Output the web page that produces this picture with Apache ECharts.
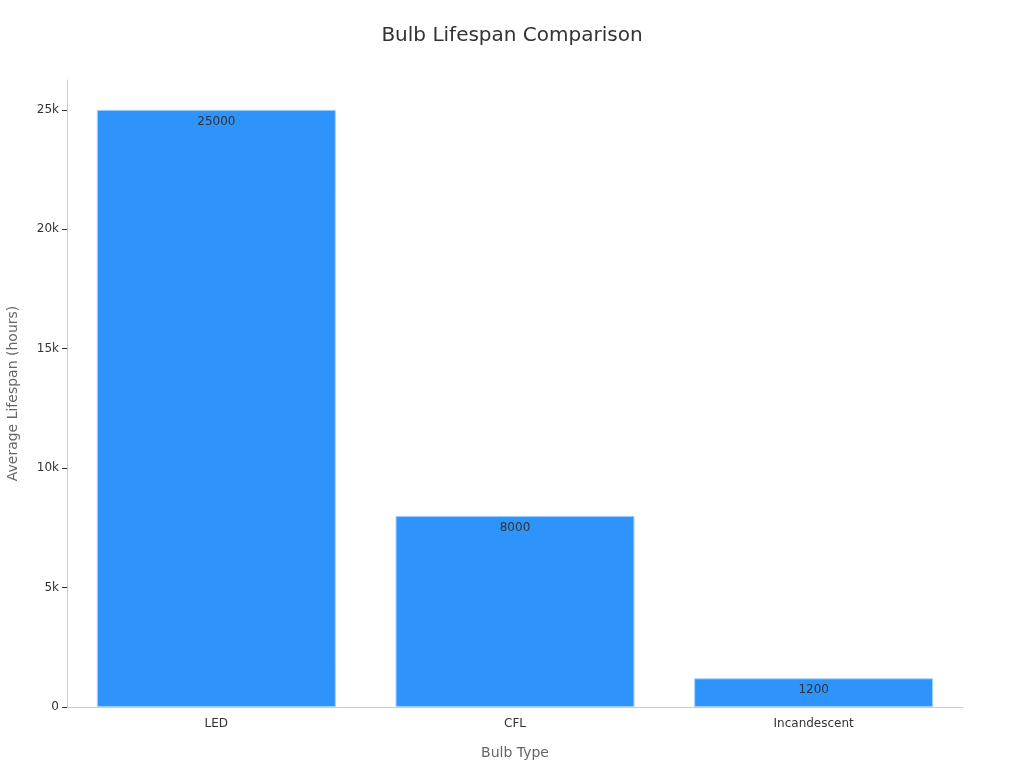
<!DOCTYPE html>
<html>
<head>
<meta charset="utf-8">
<script src="https://cdn.jsdelivr.net/npm/echarts@6/dist/echarts.min.js"></script>
<style>
  html, body { margin: 0; padding: 0; background: #fff; }
  #chart { width: 1024px; height: 768px; }
</style>
</head>
<body>
<div id="chart"></div>
<script>
// data
var bulbTypes = ['LED', 'CFL', 'Incandescent'];
var lifespanHours = [25000, 8000, 1200];

var chart = echarts.init(document.getElementById('chart'));

var option = {
  backgroundColor: '#fff',
  textStyle: { fontFamily: 'DejaVu Sans' },
  title: {
    text: 'Bulb Lifespan Comparison',
    left: 'center',
    top: 21,
    textStyle: { fontSize: 20, fontWeight: 'normal', color: '#333', fontFamily: 'DejaVu Sans' }
  },
  grid: { left: 67, right: 61, top: 80, bottom: 61, outerBoundsMode: 'none', containLabel: false },
  xAxis: {
    type: 'category',
    data: bulbTypes,
    name: 'Bulb Type',
    nameLocation: 'middle',
    nameGap: 39,
    nameTextStyle: { color: '#666', fontSize: 14 },
    axisLine: { lineStyle: { color: '#ccc' } },
    axisTick: { alignWithLabel: true, length: 5, lineStyle: { color: '#333' } },
    axisLabel: { color: '#333', fontSize: 12, margin: 11 }
  },
  yAxis: {
    type: 'value',
    min: 0,
    max: 26250,
    interval: 5000,
    name: 'Average Lifespan (hours)',
    nameLocation: 'middle',
    nameGap: 47,
    nameTextStyle: { color: '#666', fontSize: 14 },
    axisLine: { show: true, lineStyle: { color: '#ccc' } },
    axisTick: { show: true, length: 5, lineStyle: { color: '#333' } },
    splitLine: { show: false },
    axisLabel: {
      color: '#333',
      fontSize: 12,
      margin: 8,
      showMaxLabel: false,
      formatter: function (v) { return v === 0 ? '0' : (v / 1000) + 'k'; }
    }
  },
  series: [{
    type: 'bar',
    data: lifespanHours,
    barWidth: '80%',
    itemStyle: { color: '#2E93FA', borderColor: '#9fd0ff', borderWidth: 1 },
    label: {
      show: true,
      position: 'insideTop',
      distance: 6,
      color: '#333',
      fontSize: 12
    }
  }]
};

chart.setOption(option);
</script>
</body>
</html>
